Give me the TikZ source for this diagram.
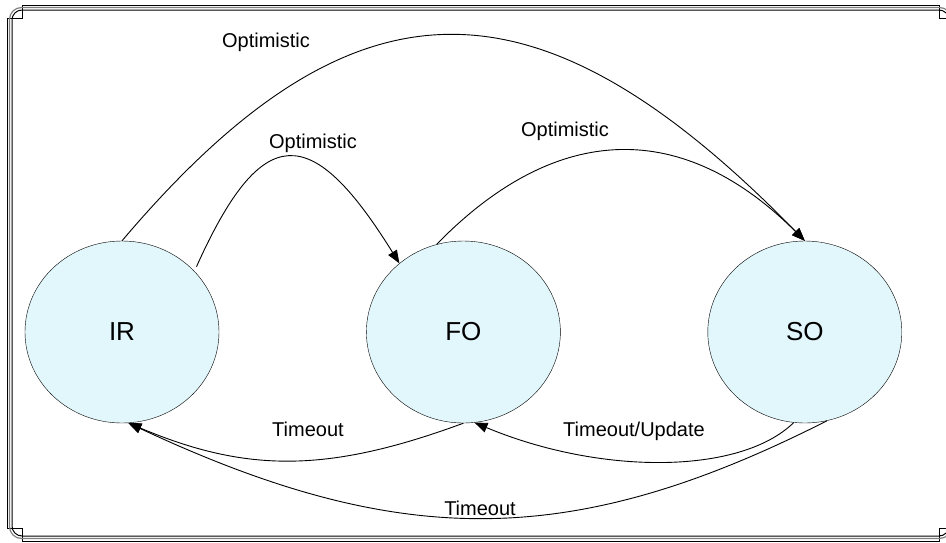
\documentclass[tikz,border=0pt]{standalone}
\usepackage{fontspec}
\setmainfont{Liberation Sans}
\usepackage{tikz}
\usetikzlibrary{arrows.meta, positioning, shapes.geometric}
\definecolor{statefill}{RGB}{225,247,252}

\begin{document}
\begin{tikzpicture}[x=1pt, y=-1pt,
        state/.style={ellipse, draw, fill=statefill, minimum width=194pt, minimum height=182pt, inner sep=0pt, font=\fontsize{26}{30}\selectfont},
        lbl/.style={inner sep=0pt, font=\fontsize{20}{24}\selectfont},
        arrow/.style={-{Triangle[length=13pt, width=10pt]}, line width=0.9pt},
        frame/.style={line width=1pt},
        node distance=147pt
    ]
    \clip (0,0) rectangle (946,542);

    % Rahmen
    \draw[frame] (22,5) -- (939,5) -- (939,18) -- (954,18) -- (954,528) -- (939,528) -- (939,541) -- (22,541) -- (22,528) -- (7,528) -- (7,18) -- (22,18) -- cycle;
    \draw[frame, gray, line width=1.2pt, rounded corners=12pt] (9.5,7.5) rectangle (951.5,538.5);
    \draw[frame, rounded corners=10pt] (12,10) rectangle (949,536);

    % Zustaende
    \node[state] (IR) at (122,332) {IR};
    \node[state, right=of IR] (FO) {FO};
    \node[state, right=of FO] (SO) {SO};

    % Beschriftungen
    \node[lbl] (opt_ir_so) at (266,42) {Optimistic};
    \node[lbl] (opt_ir_fo) at (313,143) {Optimistic};
    \node[lbl] (opt_fo_so) at (565,131) {Optimistic};
    \node[lbl] (to_fo_ir) at (308,429) {Timeout};
    \node[lbl] (to_so_fo) at (634,431) {Timeout/Update};
    \node[lbl] (to_so_ir) at (480,508) {Timeout};

    % Uebergaenge
    \draw[arrow] (IR.north) .. controls (354,-33) and (537,-33) .. (SO.north);
    \draw[arrow, shorten <=5pt] (IR.40) .. controls (262,121) and (311,121) .. (FO.133);
    \draw[arrow] (FO.107) .. controls (558,120) and (684,120) .. (SO.north);
    \draw[arrow] (FO.south) .. controls (328,473) and (247,473) .. (IR.274);
    \draw[arrow] (SO.263) .. controls (740,475) and (600,475) .. (FO.277);
    \draw[arrow] (SO.284) .. controls (572,550) and (400,550) .. (IR.274);

\end{tikzpicture}
\end{document}
